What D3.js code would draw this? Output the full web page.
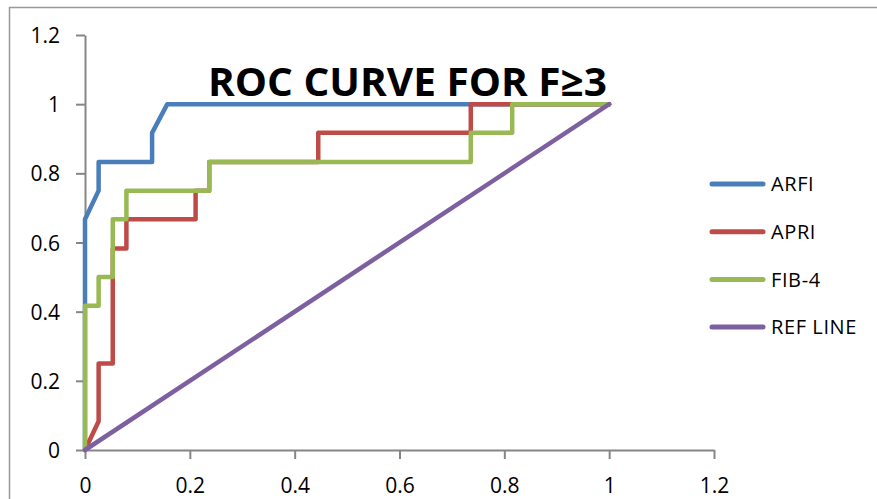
<!DOCTYPE html>
<html>
<head>
<meta charset="utf-8">
<script src="https://cdn.jsdelivr.net/npm/d3@7"></script>
<style>
  html, body { margin: 0; padding: 0; background: #fff; }
  svg { display: block; }
  .tick text { font-family: "Open Sans", "Noto Sans", sans-serif; font-size: 21px; fill: #000; }
</style>
</head>
<body>
<svg id="chart" width="877" height="499"></svg>
<script>
// ---- data ----
const seriesNames = ["ARFI", "APRI", "FIB-4", "REF LINE"];
const seriesColors = ["#4A7EBB", "#BE4B48", "#98B954", "#7D60A0"];
const arfiX = [0, 0, 0, 0.026, 0.026, 0.128, 0.128, 0.157, 1];
const arfiY = [0, 0.417, 0.667, 0.75, 0.833, 0.833, 0.917, 1, 1];
const apriX = [0, 0.026, 0.026, 0.053, 0.053, 0.079, 0.079, 0.211, 0.211, 0.237, 0.237, 0.445, 0.445, 0.736, 0.736, 1];
const apriY = [0, 0.083, 0.25, 0.25, 0.583, 0.583, 0.667, 0.667, 0.75, 0.75, 0.833, 0.833, 0.917, 0.917, 1, 1];
const fib4X = [0, 0, 0.026, 0.026, 0.053, 0.053, 0.079, 0.079, 0.237, 0.237, 0.736, 0.736, 0.815, 0.815, 1];
const fib4Y = [0, 0.417, 0.417, 0.5, 0.5, 0.667, 0.667, 0.75, 0.75, 0.833, 0.833, 0.917, 0.917, 1, 1];
const refX = [0, 1];
const refY = [0, 1];
const xTicks = [0, 0.2, 0.4, 0.6, 0.8, 1, 1.2];
const xTickLabels = ["0", "0.2", "0.4", "0.6", "0.8", "1", "1.2"];
const yTicks = [0, 0.2, 0.4, 0.6, 0.8, 1, 1.2];
const yTickLabels = ["0", "0.2", "0.4", "0.6", "0.8", "1", "1.2"];
const titleText = "ROC CURVE FOR F≥3";

const seriesX = [arfiX, apriX, fib4X, refX];
const seriesY = [arfiY, apriY, fib4Y, refY];

// ---- drawing ----
const svg = d3.select("#chart");

// outer chart border
svg.append("rect")
  .attr("x", 9.5).attr("y", 7.5)
  .attr("width", 900).attr("height", 520)
  .attr("fill", "none").attr("stroke", "#999").attr("stroke-width", 1.5);

const x = d3.scaleLinear().domain([0, 1.2]).range([85, 714]);
const y = d3.scaleLinear().domain([0, 1.2]).range([450, 35]);

const yAxis = svg.append("g")
  .attr("transform", "translate(85,0)")
  .call(d3.axisLeft(y).tickValues(yTicks).tickFormat((d, i) => yTickLabels[i]).tickSize(9).tickPadding(16).tickSizeOuter(0));
const xAxis = svg.append("g")
  .attr("transform", "translate(0,450)")
  .call(d3.axisBottom(x).tickValues(xTicks).tickFormat((d, i) => xTickLabels[i]).tickSize(9).tickPadding(19).tickSizeOuter(0));
[xAxis, yAxis].forEach(g => {
  g.selectAll(".domain").attr("stroke", "#868686").attr("stroke-width", 2);
  g.selectAll(".tick line").attr("stroke", "#868686").attr("stroke-width", 2);
});
yAxis.selectAll(".tick text").attr("dy", "0.36em");

// series lines
const line = d3.line().x(d => x(d[0])).y(d => y(d[1]));
seriesNames.forEach((name, i) => {
  const pts = seriesX[i].map((v, j) => [v, seriesY[i][j]]);
  svg.append("path")
    .datum(pts)
    .attr("d", line)
    .attr("fill", "none")
    .attr("stroke", seriesColors[i])
    .attr("stroke-width", 4.5)
    .attr("stroke-linejoin", "round")
    .attr("stroke-linecap", "round");
});

// title
svg.append("text")
  .attr("x", 208).attr("y", 96)
  .attr("font-family", "'Open Sans', 'DejaVu Sans', sans-serif")
  .attr("font-weight", "bold")
  .attr("font-size", 40)
  .attr("textLength", 399)
  .attr("lengthAdjust", "spacingAndGlyphs")
  .attr("fill", "#000")
  .text(titleText);

// legend
const legend = svg.append("g");
seriesNames.forEach((name, i) => {
  const ly = 184 + i * 47.7;
  legend.append("line")
    .attr("x1", 712).attr("x2", 763).attr("y1", ly).attr("y2", ly)
    .attr("stroke", seriesColors[i]).attr("stroke-width", 5).attr("stroke-linecap", "round");
  legend.append("text")
    .attr("x", 771).attr("y", ly)
    .attr("dy", "0.36em")
    .attr("font-family", "'Open Sans', 'Noto Sans', sans-serif")
    .attr("font-size", 20)
    .attr("letter-spacing", 0.6)
    .attr("fill", "#000")
    .text(name);
});
</script>
</body>
</html>
